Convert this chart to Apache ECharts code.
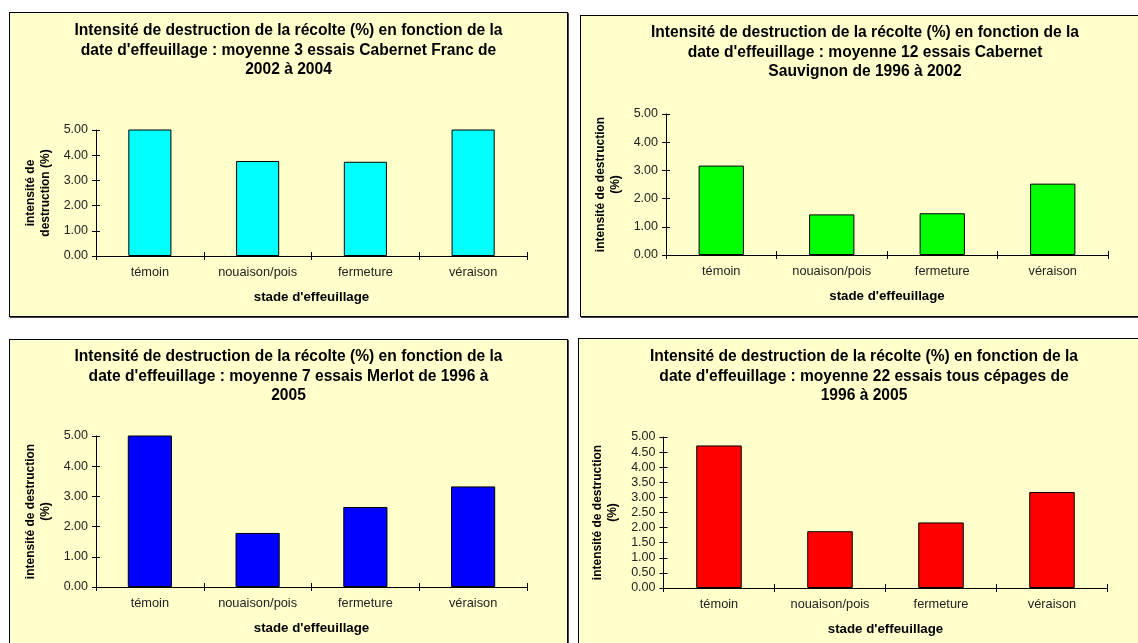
<!DOCTYPE html>
<html>
<head>
<meta charset="utf-8">
<script src="https://cdn.jsdelivr.net/npm/echarts@6/dist/echarts.min.js"></script>
<style>
  body { margin: 0; background: #fff; width: 1138px; height: 643px; overflow: hidden; position: relative; }
  .panel { position: absolute; box-sizing: border-box; border: 1px solid #000; box-shadow: 1px 1px 0 #444; background: #ffffcc; }
</style>
</head>
<body>
<div id="cabernetFranc" class="panel" style="left: 9px; top: 12px; width: 559px; height: 305px"></div>
<div id="cabernetSauvignon" class="panel" style="left: 580px; top: 15px; width: 570px; height: 302px"></div>
<div id="merlot" class="panel" style="left: 9px; top: 339px; width: 559px; height: 312px"></div>
<div id="tousCepages" class="panel" style="left: 578px; top: 338px; width: 572px; height: 312px"></div>

<script>
// stades d'effeuillage
const categories = ['témoin', 'nouaison/pois', 'fermeture', 'véraison']

// intensité de destruction (%) - les barres > 5 sont coupées dans l'original
const cabernetFrancValues = [5.1, 3.77, 3.74, 5.1]
const cabernetSauvignonValues = [3.17, 1.44, 1.48, 2.53]
const merlotValues = [5.05, 1.79, 2.65, 3.33]
const tousCepagesValues = [4.72, 1.88, 2.17, 3.18]

const titleCabernetFranc = "Intensité de destruction de la récolte (%) en fonction de la\ndate d'effeuillage : moyenne 3 essais Cabernet Franc de\n2002 à 2004"
const titleCabernetSauvignon = "Intensité de destruction de la récolte (%) en fonction de la\ndate d'effeuillage : moyenne 12 essais Cabernet\nSauvignon de 1996 à 2002"
const titleMerlot = "Intensité de destruction de la récolte (%) en fonction de la\ndate d'effeuillage : moyenne 7 essais Merlot de 1996 à\n2005"
const titleTousCepages = "Intensité de destruction de la récolte (%) en fonction de la\ndate d'effeuillage : moyenne 22 essais tous cépages de\n1996 à 2005"

const xName = "stade d'effeuillage"

const FONT = '"Liberation Sans", Arial, sans-serif'

const buildOption = (cfg, chartWidth) => {
  const grid = { left: cfg.grid[0], top: cfg.grid[1], width: cfg.grid[2], height: cfg.grid[3] }
  return {
    animation: false,
    textStyle: { fontFamily: FONT },
    title: {
      text: cfg.title,
      left: chartWidth / 2,
      top: cfg.titleTop,
      padding: 0,
      textAlign: 'center',
      textStyle: {
        fontFamily: FONT,
        fontSize: 15.6,
        fontWeight: 'bold',
        color: '#000',
        lineHeight: 19.5
      }
    },
    grid: grid,
    xAxis: [
      {
        type: 'category',
        data: categories,
        position: 'bottom',
        name: xName,
        nameLocation: 'middle',
        nameGap: 35,
        nameTextStyle: { fontFamily: FONT, fontSize: 13.3, fontWeight: 'bold', color: '#000' },
        axisLine: { lineStyle: { color: '#000', width: 1 } },
        axisTick: { show: true, inside: false, length: 4, lineStyle: { color: '#000' } },
        axisLabel: { fontFamily: FONT, fontSize: 12.8, color: '#222', margin: 10 }
      },
      {
        // ticks côté intérieur (marques croisées façon Excel)
        type: 'category',
        data: categories,
        position: 'bottom',
        axisLine: { show: false },
        axisTick: { show: true, inside: true, length: 4, lineStyle: { color: '#000' } },
        axisLabel: { show: false }
      }
    ],
    yAxis: [
      {
        type: 'value',
        min: 0,
        max: 5,
        interval: cfg.step,
        position: 'left',
        name: cfg.yName,
        nameLocation: 'middle',
        nameRotate: 90,
        nameGap: 42,
        nameTextStyle: { fontFamily: FONT, fontSize: 12, fontWeight: 'bold', color: '#000', lineHeight: 15 },
        splitLine: { show: false },
        axisLine: { show: true, lineStyle: { color: '#000', width: 1 } },
        axisTick: { show: true, inside: false, length: 4, lineStyle: { color: '#000' } },
        axisLabel: {
          fontFamily: FONT,
          fontSize: 12.5,
          color: '#222',
          margin: 8,
          formatter: (v) => v.toFixed(2)
        }
      },
      {
        type: 'value',
        min: 0,
        max: 5,
        interval: cfg.step,
        position: 'left',
        splitLine: { show: false },
        axisLine: { show: false },
        axisTick: { show: true, inside: true, length: 4, lineStyle: { color: '#000' } },
        axisLabel: { show: false }
      }
    ],
    series: [
      {
        type: 'bar',
        data: cfg.values,
        barWidth: cfg.barWidth,
        clip: true,
        itemStyle: {
          color: cfg.color,
          borderColor: '#000',
          borderWidth: 1
        }
      }
    ]
  }
}

const panels = [
  {
    id: 'cabernetFranc',
    title: titleCabernetFranc,
    titleTop: 8,
    values: cabernetFrancValues,
    color: '#00ffff',
    yName: 'intensité de\ndestruction (%)',
    step: 1,
    barWidth: '40%',
    grid: [86, 117, 431, 126]
  },
  {
    id: 'cabernetSauvignon',
    title: titleCabernetSauvignon,
    titleTop: 7,
    values: cabernetSauvignonValues,
    color: '#00ff00',
    yName: 'intensité de destruction\n(%)',
    step: 1,
    barWidth: '41%',
    grid: [85, 98, 442, 141]
  },
  {
    id: 'merlot',
    title: titleMerlot,
    titleTop: 7,
    values: merlotValues,
    color: '#0000ff',
    yName: 'intensité de destruction\n(%)',
    step: 1,
    barWidth: '41%',
    grid: [86, 96, 431, 151]
  },
  {
    id: 'tousCepages',
    title: titleTousCepages,
    titleTop: 8,
    values: tousCepagesValues,
    color: '#ff0000',
    yName: 'intensité de destruction\n(%)',
    step: 0.5,
    barWidth: '41%',
    grid: [84.5, 98, 444, 151]
  }
]

panels.forEach((p) => {
  const dom = document.getElementById(p.id)
  const chart = echarts.init(dom)
  chart.setOption(buildOption(p, chart.getWidth()))
})
</script>
</body>
</html>
